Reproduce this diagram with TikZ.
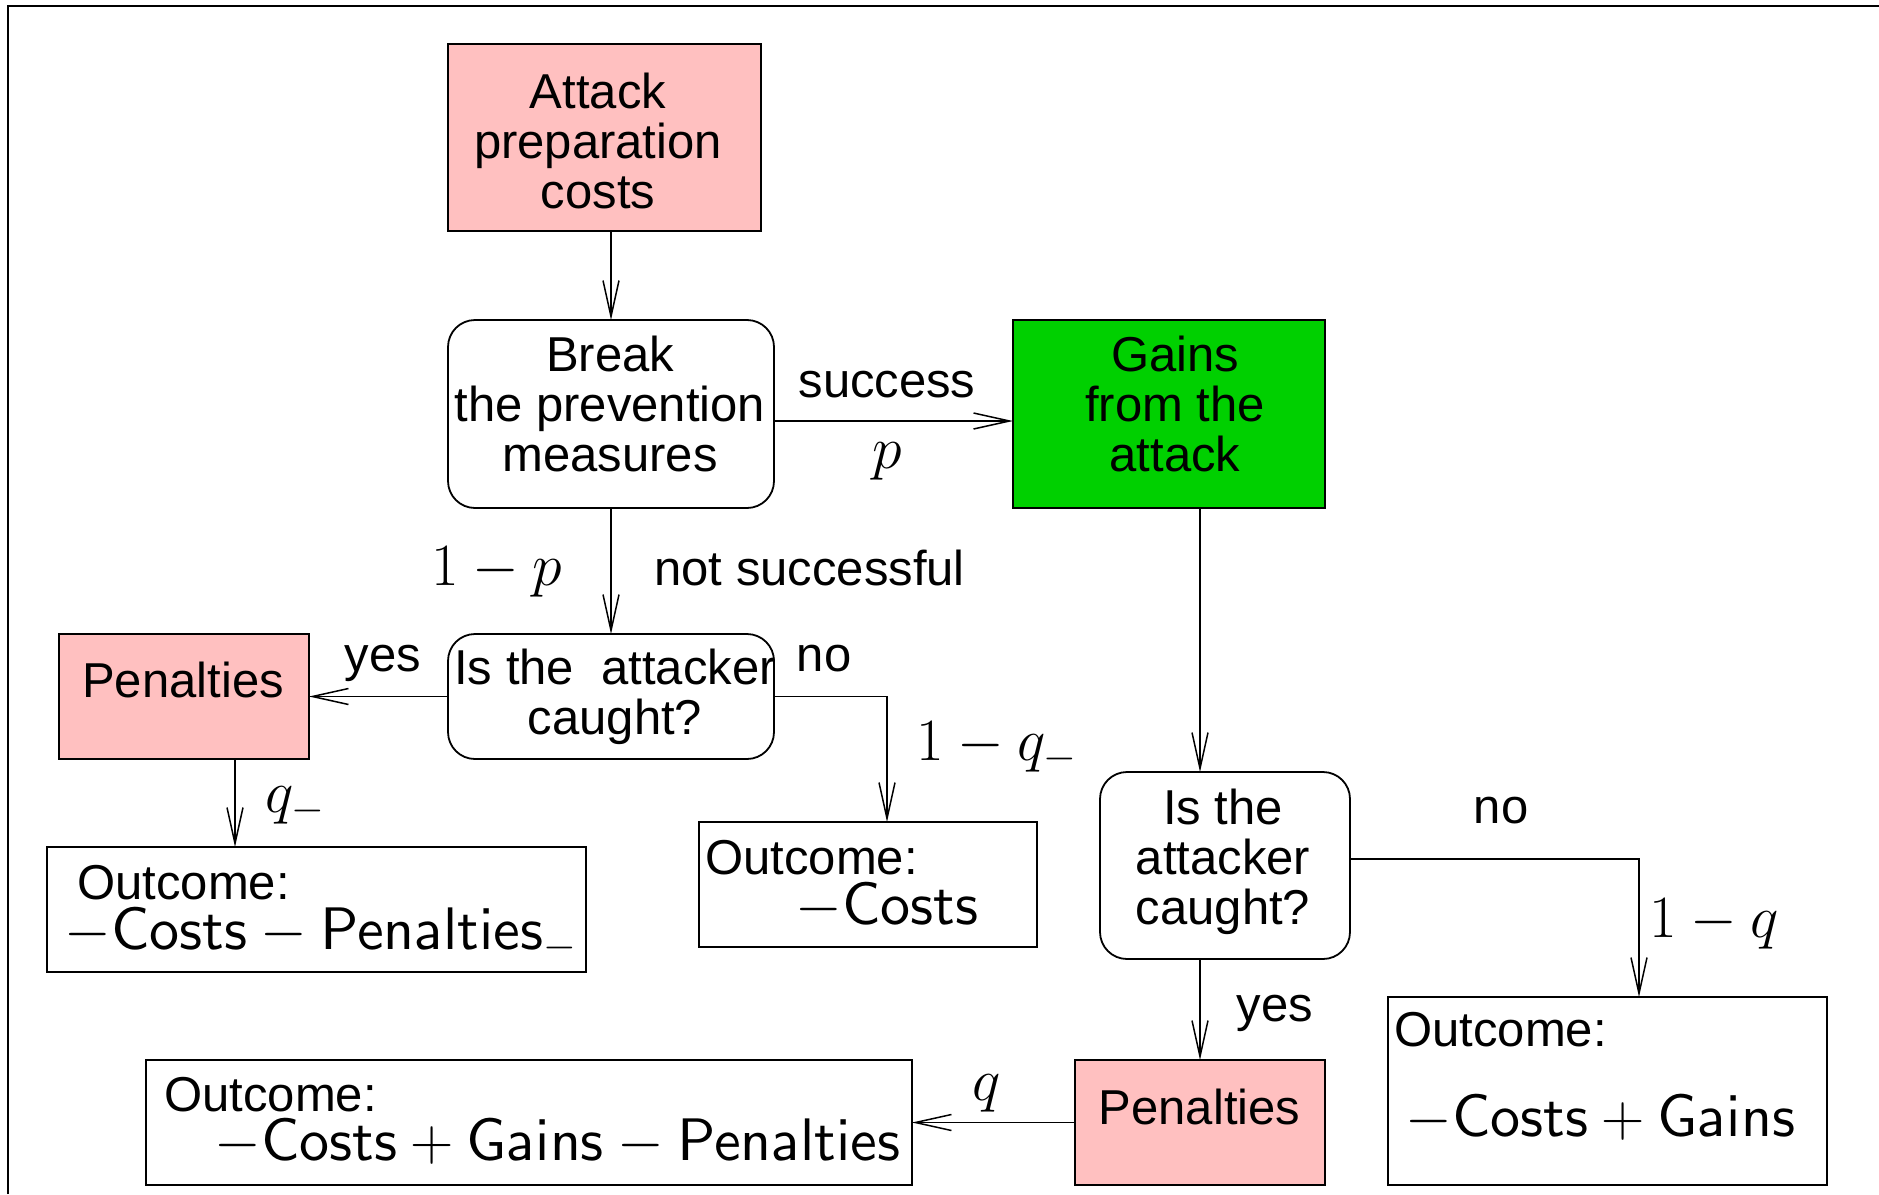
\RequirePackage{fix-cm}
\documentclass[tikz,border=0pt]{standalone}
\usepackage[no-math]{fontspec}
\setmainfont{Liberation Sans}
\usetikzlibrary{arrows.meta}

% sans math letters from the 10pt design, scaled freely
\DeclareFontFamily{OT1}{cmssten}{}
\DeclareFontShape{OT1}{cmssten}{m}{n}{<->cmss10}{}
\DeclareMathAlphabet{\mathsf}{OT1}{cmssten}{m}{n}

\definecolor{penpink}{RGB}{255,192,192}
\definecolor{gaingreen}{RGB}{0,208,0}

\begin{document}
\begin{tikzpicture}[x=0.5pt,y=-0.5pt,
  box/.style={draw, line width=0.9pt, inner sep=0pt, outer sep=0pt},
  rbox/.style={box, rounded corners=13.5pt},
  txt/.style={inner sep=0pt, font=\fontsize{24.5}{25}\selectfont, align=center, anchor=base},
  ltxt/.style={txt, anchor=base west},
  mth/.style={inner sep=0pt, anchor=base, font=\fontsize{30}{36}\selectfont},
  lmth/.style={mth, anchor=base west},
  link/.style={line width=0.75pt, -{Straight Barb[length=18pt,width=8pt]}}
]
\useasboundingbox (0,0) rectangle (1879,1194);

% frame
\draw[line width=1pt] (8,1194) -- (8,6) -- (1879,6);

% boxes
\node[box, fill=penpink, minimum width=156.5pt, minimum height=93.5pt] (attack) at (604.5,137.5) {};
\node[rbox, minimum width=163pt, minimum height=94pt] (brk) at (611,414) {};
\node[box, fill=gaingreen, minimum width=156pt, minimum height=94pt] (gains) at (1169,414) {};
\node[rbox, minimum width=163pt, minimum height=62.5pt] (caughtL) at (611,696.5) {};
\node[box, fill=penpink, minimum width=125pt, minimum height=62.5pt] (penL) at (184,696.5) {};
\node[box, minimum width=269.5pt, minimum height=62.5pt] (outL) at (316.5,909.5) {};
\node[box, minimum width=169pt, minimum height=62.5pt] (outM) at (868,884.5) {};
\node[rbox, minimum width=125pt, minimum height=93.5pt] (caughtR) at (1225,865.5) {};
\node[box, fill=penpink, minimum width=125pt, minimum height=62.5pt] (penB) at (1200,1122.5) {};
\node[box, minimum width=383pt, minimum height=62.5pt] (outB) at (529,1122.5) {};
\node[box, minimum width=219.5pt, minimum height=94pt] (outR) at (1607.5,1091) {};

% box texts (anchored at the baseline of the last line)
\node[txt] (attackT) at (598,208) {Attack\\preparation\\costs};
\node[txt] (brkT) at (610,471.5) {Break\\the prevention\\measures};
\node[txt] (gainsT) at (1175,471.5) {Gains\\from the\\attack};
\node[txt] (caughtLT) at (615,734) {Is the\ \ attacker\\caught?};
\node[txt] (caughtRT) at (1223,924) {Is the\\attacker\\caught?};
\node[txt] (penLT) at (183,697) {Penalties};
\node[txt] (penBT) at (1199.5,1124) {Penalties};

% outcome texts
\node[ltxt] (outLa) at (77,899) {Outcome:};
\node[lmth] (outLb) at (64,949) {$-\mathsf{Costs}-\mathsf{Penalties}_-$};
\node[ltxt] (outMa) at (705,874) {Outcome:};
\node[lmth] (outMb) at (795,924) {$-\mathsf{Costs}$};
\node[ltxt] (outRa) at (1394,1046) {Outcome:};
\node[lmth] (outRb) at (1405,1136) {$-\mathsf{Costs}+\mathsf{Gains}$};
\node[ltxt] (outBa) at (164,1111) {Outcome:};
\node[lmth] (outBb) at (214,1160) {$-\mathsf{Costs}+\mathsf{Gains}-\mathsf{Penalties}$};

% connectors
\draw[link] (attack.south -| brk.north) -- (brk.north);
\draw[link] ([yshift=-3.5pt]brk.east) -- ([yshift=-3.5pt]gains.west);
\draw[link] (brk.south) -- (caughtL.north);
\draw[link] (gains.south -| penB.north) -- (caughtR.north -| penB.north);
\draw[link] (caughtL.west) -- (penL.east);
\draw[link] (caughtL.east) -| ([xshift=9.5pt]outM.north);
\draw[link] (penL.south -| 235,0) -- (outL.north -| 235,0);
\draw[link] ([yshift=3.25pt]caughtR.east) -| (outR.north -| 1639,0);
\draw[link] (caughtR.south -| penB.north) -- (penB.north);
\draw[link] (penB.west) -- (outB.east);

% connector labels
\node[txt] (lSuccess) at (887,397) {success};
\node[mth] (lP) at (887,468) {$p$};
\node[mth] (lOneMinusP) at (497,585) {$1-p$};
\node[ltxt] (lNotSucc) at (654,585) {not successful};
\node[txt] (lYesL) at (383,671) {yes};
\node[txt] (lNoL) at (824,671) {no};
\node[lmth] (lOneMinusQm) at (916,760) {$1-q_-$};
\node[lmth] (lQm) at (265,812) {$q_-$};
\node[txt] (lNoR) at (1501,823) {no};
\node[lmth] (lOneMinusQ) at (1649,937) {$1-q$};
\node[txt] (lYesR) at (1275,1021) {yes};
\node[mth] (lQ) at (987,1100) {$q$};
\end{tikzpicture}
\end{document}
